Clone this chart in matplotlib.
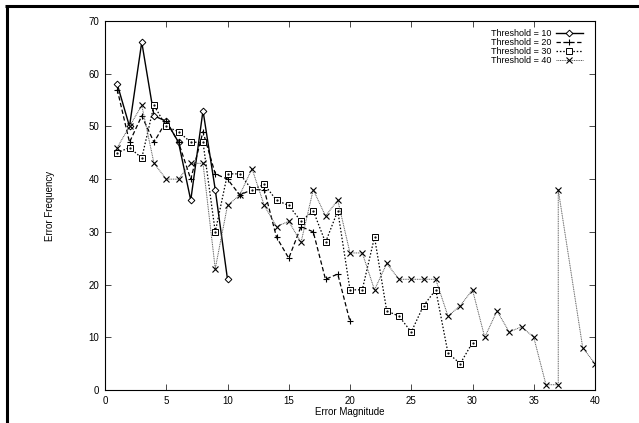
import matplotlib
matplotlib.use("Agg")
import matplotlib.pyplot as plt
from matplotlib.lines import Line2D

plt.rcParams['font.family'] = ['Liberation Sans', 'DejaVu Sans']

x10 = list(range(1, 11))
t10 = [58, 50, 66, 52, 51, 47, 36, 53, 38, 21]
x20 = list(range(1, 21))
t20 = [57, 47, 52, 47, 51, 47, 40, 49, 41, 40, 37, 38, 38, 29, 25, 31, 30, 21, 22, 13]
x30 = list(range(1, 31))
t30 = [45, 46, 44, 54, 50, 49, 47, 47, 30, 41, 41, 38, 39, 36, 35, 32, 34, 28, 34, 19,
       19, 29, 15, 14, 11, 16, 19, 7, 5, 9]
x40 = list(range(1, 38)) + [37, 39, 40]
t40 = [46, 50, 54, 43, 40, 40, 43, 43, 23, 35, 37, 42, 35, 31, 32, 28, 38, 33, 36, 26,
       26, 19, 24, 21, 21, 21, 21, 14, 16, 19, 10, 15, 11, 12, 10, 1, 1, 38, 8, 5]
labels = ['Threshold = 10', 'Threshold = 20', 'Threshold = 30', 'Threshold = 40']
xticks = [0, 5, 10, 15, 20, 25, 30, 35, 40]
yticks = [0, 10, 20, 30, 40, 50, 60, 70]

fig = plt.figure(figsize=(6.39, 4.23), dpi=100)
ax = fig.add_axes([105/639, 33/423, 490/639, 369/423])

ax.plot(x10, t10, color='black', lw=1.0, ls='-', marker='D', ms=3.4,
        mfc='white', mec='black', mew=0.7, label=labels[0])
ax.plot(x20, t20, color='black', lw=0.9, ls=(0, (3.5, 2)), marker='+', ms=5,
        mew=0.8, label=labels[1])
ax.plot(x30, t30, color='black', lw=0.9, ls=(0, (1.2, 1.5)), marker='s', ms=4.3,
        mfc='white', mec='black', mew=0.7, label=labels[2])
ax.plot(x40, t40, color='#555555', lw=0.7, ls=(0, (1, 0.8)), marker='x', ms=3.8,
        mec='black', mew=0.8, label=labels[3])
ax.plot(x30, t30, ls='none', marker='.', ms=1.2, color='black')

ax.set_xlim(0, 40)
ax.set_ylim(0, 70)
ax.set_xticks(xticks)
ax.set_yticks(yticks)
ax.tick_params(direction='in', length=4.3, width=0.5, labelsize=7,
               top=True, right=True, pad=4)
for s in ax.spines.values():
    s.set_linewidth(0.8)
ax.set_xlabel('Error Magnitude', fontsize=7, labelpad=1)
ax.set_ylabel('Error Frequency', fontsize=7, labelpad=24)

leg = ax.legend(loc='upper right', fontsize=6.5, markerfirst=False, frameon=False,
                handlelength=3.0, labelspacing=0.0, borderaxespad=0, borderpad=0,
                handletextpad=0.5, bbox_to_anchor=(583/639, 1 - 29/423),
                bbox_transform=fig.transFigure)

fig.add_artist(Line2D([5/639, 1.0], [1 - 6.5/423, 1 - 6.5/423], color='black',
                      lw=2.2, transform=fig.transFigure, solid_capstyle='butt'))
fig.add_artist(Line2D([6.5/639, 6.5/639], [0.0, 1 - 5/423], color='black',
                      lw=2.2, transform=fig.transFigure, solid_capstyle='butt'))

fig.savefig('out.png', dpi=100)
